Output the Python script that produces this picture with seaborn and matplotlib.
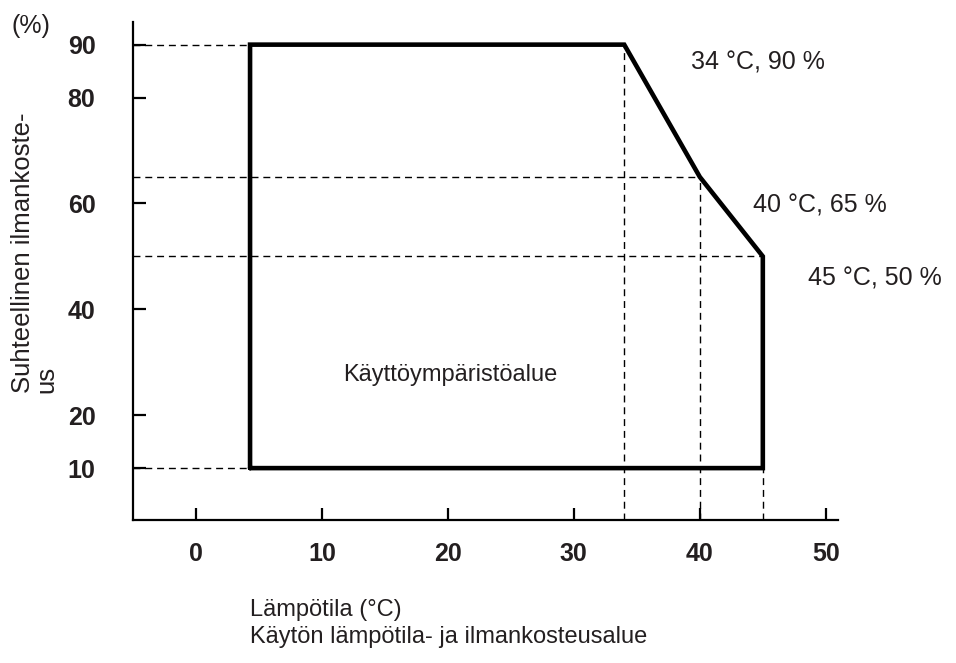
import matplotlib
matplotlib.use("Agg")
import matplotlib.pyplot as plt
import seaborn as sns
import pandas as pd

# Operating envelope: temperature (°C) vs relative humidity (%)
temp_c = [4.3, 4.3, 34, 40, 45, 45, 4.3]
humidity_pct = [10, 90, 90, 65, 50, 10, 10]

corner_labels = ["34 °C, 90 %", "40 °C, 65 %", "45 °C, 50 %"]
corner_temp = [34, 40, 45]
corner_hum = [90, 65, 50]

x_ticks = [0, 10, 20, 30, 40, 50]
y_ticks = [10, 20, 40, 60, 80, 90]

sns.set_theme(style="white")
plt.rcParams["font.family"] = ["Liberation Sans", "DejaVu Sans"]

fig = plt.figure(figsize=(9.56, 6.63), dpi=100)
ax = fig.add_axes([0.139, 0.2157, 0.877 - 0.139, 0.967 - 0.2157])

df = pd.DataFrame({"temp": temp_c, "hum": humidity_pct})
sns.lineplot(data=df, x="temp", y="hum", sort=False, estimator=None,
             color="black", linewidth=3.3, ax=ax, solid_joinstyle="miter")

ax.set_xlim(-5, 51)
ax.set_ylim(0.2, 94.3)

# Dashed guide lines from the axes to the envelope corners
dash = dict(colors="black", linewidth=1.0, linestyles=(0, (5, 3.5)))
left_edge = temp_c[0]
ax.hlines([humidity_pct[0], humidity_pct[1]], -5, left_edge, **dash)
ax.hlines(corner_hum[1:], -5, corner_temp[1:], **dash)
ax.vlines(corner_temp, 0.2, corner_hum, **dash)

for s in ["top", "right"]:
    ax.spines[s].set_visible(False)
for s in ["left", "bottom"]:
    ax.spines[s].set_color("black")
    ax.spines[s].set_linewidth(1.6)

ax.set_xticks(x_ticks)
ax.set_yticks(y_ticks)
tick_font = dict(family=["Liberation Sans Narrow", "Liberation Sans", "DejaVu Sans"],
                 weight="bold", size=18)
ax.set_xticklabels([str(v) for v in x_ticks], **tick_font)
ax.set_yticklabels([str(v) for v in y_ticks], **tick_font)
ax.tick_params(axis="both", direction="in", length=9, width=1.6, color="black",
               labelcolor="#231f20", bottom=True, left=True)
ax.tick_params(axis="x", pad=16)
ax.tick_params(axis="y", pad=27)
ax.set_xlabel("")
ax.set_ylabel("")

ink = "#231f20"
for lab, tx, hy, dx, dy in zip(corner_labels, corner_temp, corner_hum,
                               [5.3, 4.2, 3.6], [-3.4, -5.3, -4.2]):
    ax.text(tx + dx, hy + dy, lab, ha="left", va="center", fontsize=18, color=ink)

ax.text(20.2, 27.5, "Käyttöympäristöalue", ha="center", va="center",
        fontsize=17, color=ink)

fig.text(0.012, 0.961, "(%)", ha="left", va="center", fontsize=18, color=ink)
fig.text(0.012, 0.619, "Suhteellinen ilmankoste-\nus", rotation=90,
         ha="left", va="center", multialignment="left", linespacing=0.95,
         fontsize=18.5, color=ink)
fig.text(0.262, 0.06, "Lämpötila (°C)\nKäytön lämpötila- ja ilmankosteusalue",
         ha="left", va="center", linespacing=1.28, fontsize=17, color=ink)

fig.savefig("out.png", dpi=100)
